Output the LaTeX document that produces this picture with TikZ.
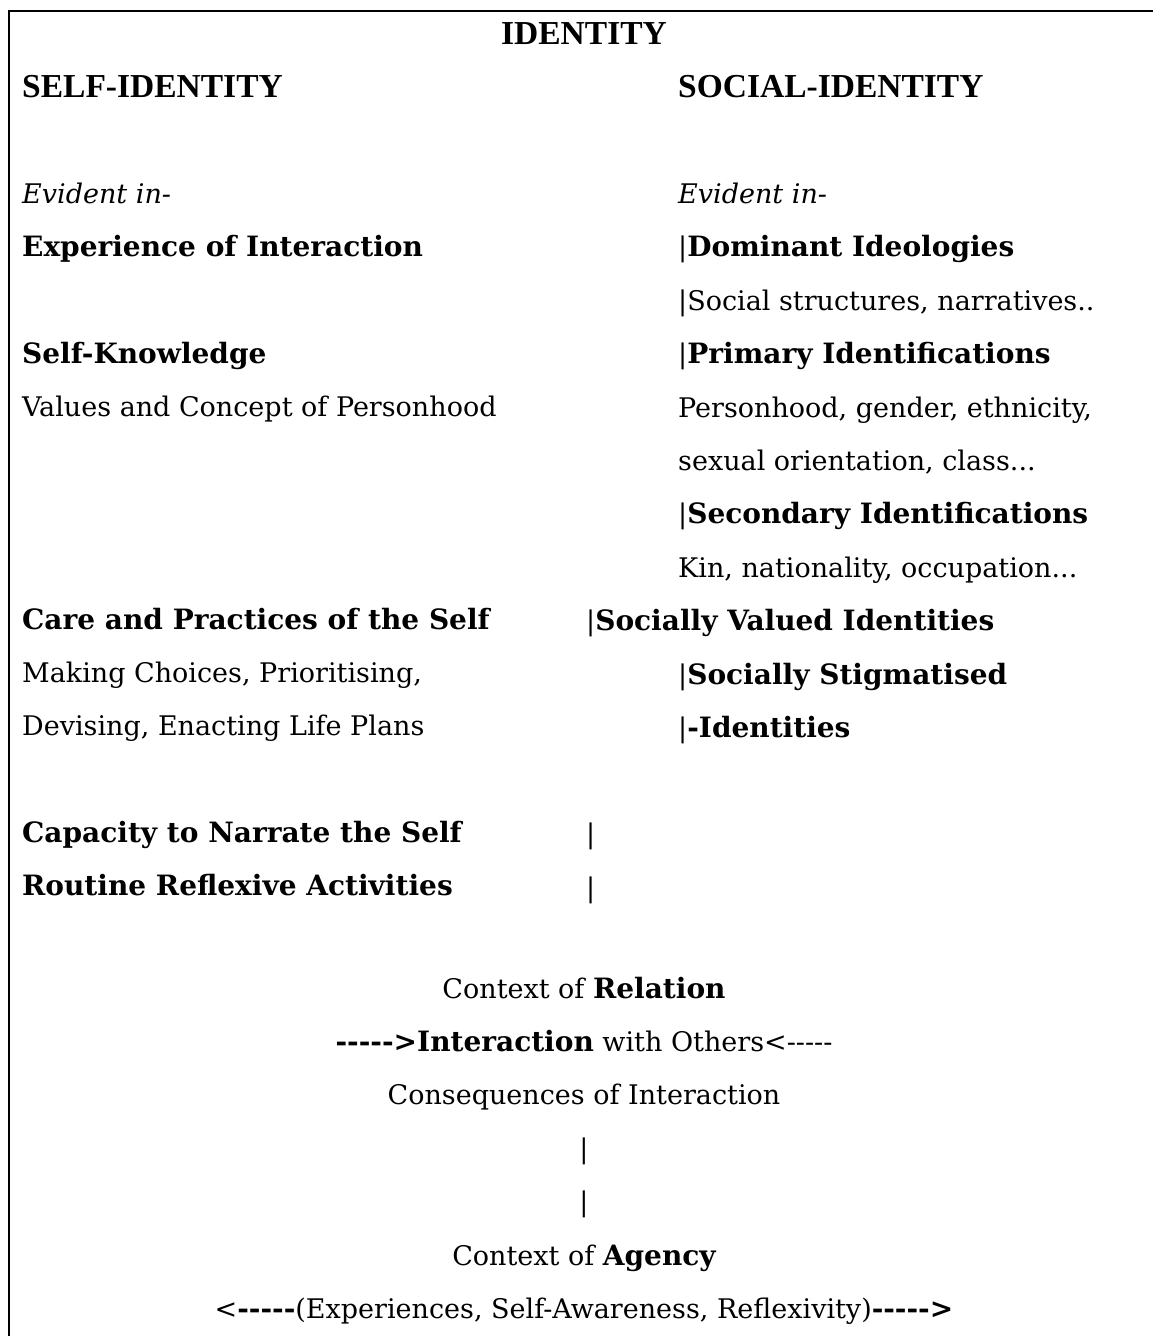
\documentclass[tikz,border=0pt]{standalone}
\usepackage{fontspec}
\setmainfont{DejaVu Serif}
\newfontfamily\headfont{Liberation Serif}
\usepackage{tikz}
\usetikzlibrary{positioning}
\newcommand{\fivedash}{-{}-{}-{}-{}-}
\newcommand{\bld}[1]{{\fontsize{28}{34}\selectfont\bfseries #1}}
\tikzset{row/.style={inner sep=0pt,text height=37.5pt,text depth=15.5pt,font=\fontsize{27}{34}\selectfont},
         head/.style={row,font=\headfont\bfseries\fontsize{33.5}{40}\selectfont},}

\begin{document}
\begin{tikzpicture}[node distance=0pt]
    \useasboundingbox (0,0) rectangle (1153pt,-1336pt);
    \draw[line width=2pt] (9pt,-1337pt) -- (9pt,-11pt) -- (1154pt,-11pt);

    \node[head,anchor=base] (title) at (584pt,-44pt) {IDENTITY};
    \node[head,anchor=base west] (selfid) at (22pt,-97pt) {SELF-IDENTITY};
    \node[head,anchor=base west] (socid) at (678pt,-97pt) {SOCIAL-IDENTITY};

    % self-identity column
    \node[row] (evl) [below=53pt of selfid.south west,anchor=north west] {\itshape Evident in-};
    \node[row] (exp) [below=of evl.south west,anchor=north west] {\bld{Experience of Interaction}};
    \node[row] (selfk) [below=53pt of exp.south west,anchor=north west] {\bld{Self-Knowledge}};
    \node[row] (vals) [below=of selfk.south west,anchor=north west] {Values and Concept of Personhood};
    \node[row] (care) [below=159pt of vals.south west,anchor=north west] {\bld{Care and Practices of the Self}};
    \node[row] (making) [below=of care.south west,anchor=north west] {Making Choices, Prioritising,};
    \node[row] (devis) [below=of making.south west,anchor=north west] {Devising, Enacting Life Plans};
    \node[row] (narr) [below=53pt of devis.south west,anchor=north west] {\bld{Capacity to Narrate the Self}};
    \node[row] (routine) [below=of narr.south west,anchor=north west] {\bld{Routine Reflexive Activities}};

    % social-identity column
    \node[row] (evr) [below=53pt of socid.south west,anchor=north west] {\itshape Evident in-};
    \node[row] (domin) [below=of evr.south west,anchor=north west] {|\bld{Dominant Ideologies}};
    \node[row] (struct) [below=of domin.south west,anchor=north west] {|Social structures, narratives..};
    \node[row] (prim) [below=of struct.south west,anchor=north west] {|\bld{Primary Identifications}};
    \node[row] (pers) [below=of prim.south west,anchor=north west] {Personhood, gender, ethnicity,};
    \node[row] (sexor) [below=of pers.south west,anchor=north west] {sexual orientation, class...};
    \node[row] (second) [below=of sexor.south west,anchor=north west] {|\bld{Secondary Identifications}};
    \node[row] (kin) [below=of second.south west,anchor=north west] {Kin, nationality, occupation...};
    \node[row] (valued) [below=of kin.south west,anchor=north west,xshift=-92pt] {|\bld{Socially Valued Identities}};
    \node[row] (stigma) [below=of valued.south west,anchor=north west,xshift=92pt] {|\bld{Socially Stigmatised}};
    \node[row] (ident) [below=of stigma.south west,anchor=north west] {|\bld{-Identities}};
    \node[row] (bar1) [below=53pt of ident.south west,anchor=north west,xshift=-92pt] {|};
    \node[row] (bar2) [below=of bar1.south west,anchor=north west] {|};

    % relation and agency
    \node[row,anchor=base] (relat) at (584pt,-998pt) {Context of \bld{Relation}};
    \node[row] (inter) [below=of relat] {\bld{\fivedash>Interaction} with Others<\fivedash};
    \node[row] (conseq) [below=of inter] {Consequences of Interaction};
    \node[row] (vbar1) [below=of conseq] {|};
    \node[row] (vbar2) [below=of vbar1] {|};
    \node[row] (agency) [below=of vbar2] {Context of \bld{Agency}};
    \node[row] (reflex) [below=of agency] {<\bld{\fivedash}(Experiences, Self-Awareness, Reflexivity)\bld{\fivedash>}};
\end{tikzpicture}
\end{document}
